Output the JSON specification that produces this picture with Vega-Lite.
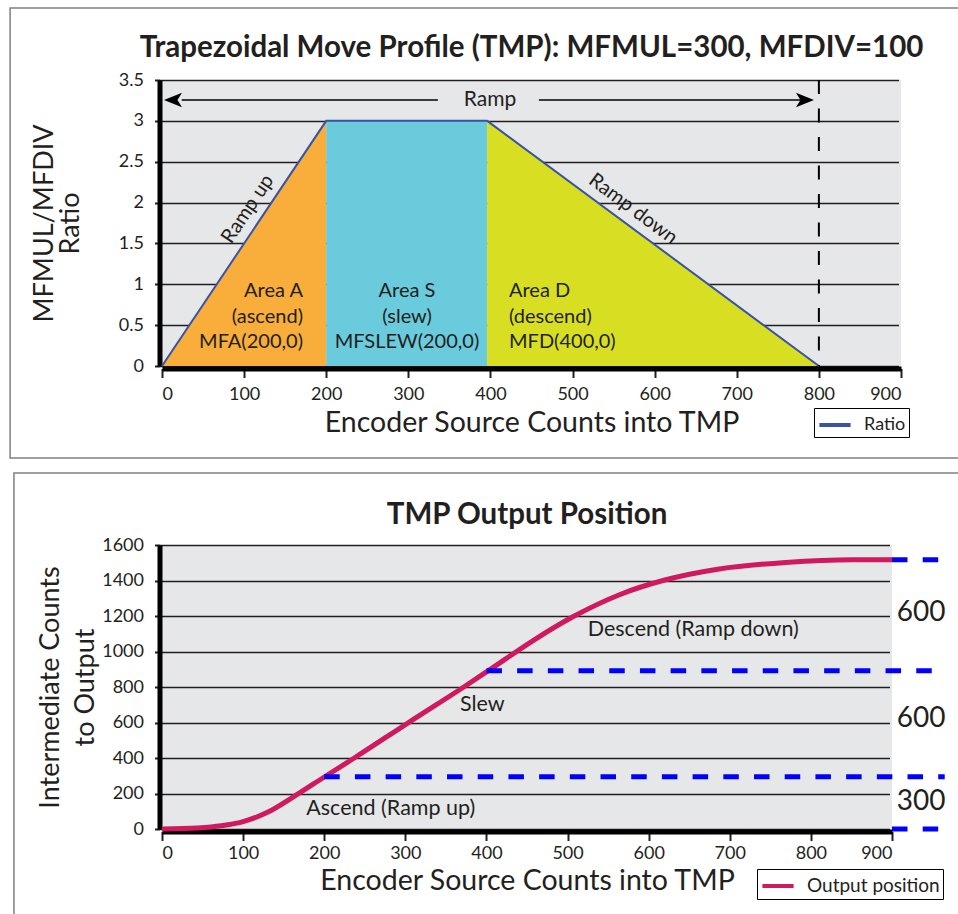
{
  "$schema": "https://vega.github.io/schema/vega-lite/v6.json",
  "padding": {"left": 9, "top": 7, "right": 0, "bottom": 0},
  "autosize": {"type": "pad"},
  "background": "white",
  "spacing": 13,
  "resolve": {
    "scale": {"x": "independent", "y": "independent", "stroke": "independent", "fill": "independent"},
    "legend": {"stroke": "independent"}
  },
  "config": {
    "font": "Lato",
    "view": {"fill": "#E6E7E8", "stroke": null},
    "axis": {
      "domainColor": "#000000", "domainWidth": 5, "domainCap": "butt",
      "tickColor": "#231F20", "tickWidth": 2, "tickSize": 9,
      "gridColor": "#231F20", "gridWidth": 1.3, "gridOpacity": 1,
      "labelColor": "#231F20", "labelFont": "Lato", "labelFontSize": 18,
      "titleColor": "#231F20", "titleFont": "Lato", "titleFontSize": 27, "titleFontWeight": "normal",
      "offset": 2.5
    },
    "axisX": {"grid": false, "titleFontSize": 28.5},
    "axisY": {"grid": true},
    "legend": {
      "orient": "none", "title": null, "symbolType": "M-1.3,0H1.3", "symbolStrokeWidth": 4, "symbolSize": 576,
      "labelFontSize": 18, "labelColor": "#231F20", "labelFont": "Lato",
      "strokeColor": "#000000", "fillColor": "#FFFFFF", "padding": 3, "labelOffset": 15, "symbolOffset": 4
    },
    "text": {"font": "Lato", "color": "#231F20"}
  },
  "vconcat": [
    {
      "width": 739,
      "height": 286,
      "layer": [
        {
          "data": {"values": [{}]},
          "mark": {"type": "rect", "filled": false, "stroke": "#808080", "strokeWidth": 1.5},
          "encoding": {
            "x": {"datum": -185, "type": "quantitative",
              "scale": {"domain": [0, 900], "nice": false, "zero": false},
              "axis": {"values": [0, 100, 200, 300, 400, 500, 600, 700, 800, 900], "tickCount": 20, "format": "d", "title": "Encoder Source Counts into TMP", "grid": false, "labelPadding": 8, "titlePadding": 5}},
            "x2": {"datum": 974},
            "y": {"datum": 4.381, "type": "quantitative",
              "scale": {"domain": [0, 3.5], "nice": false, "zero": false},
              "axis": {"values": [0, 0.5, 1, 1.5, 2, 2.5, 3, 3.5], "tickCount": 20, "format": "~g", "title": ["MFMUL/MFDIV", "Ratio"], "grid": true, "titleLineHeight": 26, "tickSize": 5, "labelPadding": 11, "titlePadding": 34}},
            "y2": {"datum": -1.126}
          }
        },
        {
          "data": {"values": [
            {"seg": "A", "x": 0, "y": 0}, {"seg": "A", "x": 200, "y": 3},
            {"seg": "S", "x": 200, "y": 3}, {"seg": "S", "x": 396, "y": 3},
            {"seg": "D", "x": 396, "y": 3}, {"seg": "D", "x": 800, "y": 0}
          ]},
          "mark": {"type": "area", "opacity": 1},
          "encoding": {
            "x": {"field": "x", "type": "quantitative",
              "scale": {"domain": [0, 900], "nice": false, "zero": false},
              "axis": {"values": [0, 100, 200, 300, 400, 500, 600, 700, 800, 900], "tickCount": 20, "format": "d", "title": "Encoder Source Counts into TMP", "grid": false, "labelPadding": 8, "titlePadding": 5}},
            "y": {"field": "y", "type": "quantitative", "stack": null,
              "scale": {"domain": [0, 3.5], "nice": false, "zero": false},
              "axis": {"values": [0, 0.5, 1, 1.5, 2, 2.5, 3, 3.5], "tickCount": 20, "format": "~g", "title": ["MFMUL/MFDIV", "Ratio"], "grid": true, "titleLineHeight": 26, "tickSize": 5, "labelPadding": 11, "titlePadding": 34}},
            "fill": {
              "field": "seg", "type": "nominal",
              "scale": {"domain": ["A", "S", "D"], "range": ["#F9AD3B", "#69CBDC", "#D8DF22"]},
              "legend": null
            }
          }
        },
        {
          "data": {"values": [
            {"x": 0, "y": 0}, {"x": 200, "y": 3}, {"x": 396, "y": 3}, {"x": 800, "y": 0}
          ]},
          "mark": {"type": "line", "strokeWidth": 2},
          "encoding": {
            "x": {"field": "x", "type": "quantitative"},
            "y": {"field": "y", "type": "quantitative"},
            "stroke": {
              "datum": "Ratio", "type": "nominal",
              "scale": {"range": ["#3953A4"]},
              "legend": {"legendX": 652, "legendY": 328}
            }
          }
        },
        {
          "data": {"values": [
            {"x": 24, "x2": 336, "y": 3.255}, {"x": 459, "x2": 786, "y": 3.255}
          ]},
          "mark": {"type": "rule", "color": "#000000", "strokeWidth": 1.5},
          "encoding": {
            "x": {"field": "x", "type": "quantitative"},
            "x2": {"field": "x2"},
            "y": {"field": "y", "type": "quantitative"}
          }
        },
        {
          "data": {"values": [{"x": 2.4, "y": 3.255}]},
          "mark": {"type": "point", "shape": "M0,0L2,-0.8L1.5,0L2,0.8Z", "filled": true, "color": "#000000", "opacity": 1, "size": 324},
          "encoding": {
            "x": {"field": "x", "type": "quantitative"},
            "y": {"field": "y", "type": "quantitative"}
          }
        },
        {
          "data": {"values": [{"x": 794, "y": 3.255}]},
          "mark": {"type": "point", "shape": "M0,0L-2,-0.8L-1.5,0L-2,0.8Z", "filled": true, "color": "#000000", "opacity": 1, "size": 324},
          "encoding": {
            "x": {"field": "x", "type": "quantitative"},
            "y": {"field": "y", "type": "quantitative"}
          }
        },
        {
          "data": {"values": [{"t": "Ramp", "x": 399.5, "y": 3.255}]},
          "mark": {"type": "text", "fontSize": 21, "align": "center", "baseline": "middle"},
          "encoding": {
            "x": {"field": "x", "type": "quantitative"},
            "y": {"field": "y", "type": "quantitative"},
            "text": {"field": "t"}
          }
        },
        {
          "data": {"values": [{"x": 800, "y": 3.5, "y2": 0}]},
          "mark": {"type": "rule", "color": "#000000", "strokeWidth": 2, "strokeDash": [14, 14.5]},
          "encoding": {
            "x": {"field": "x", "type": "quantitative"},
            "y": {"field": "y", "type": "quantitative"},
            "y2": {"field": "y2"}
          }
        },
        {
          "data": {"values": [{"t": "Ramp up", "x": 104.5, "y": 1.92}]},
          "mark": {"type": "text", "fontSize": 20, "align": "center", "baseline": "middle", "angle": -56.2},
          "encoding": {
            "x": {"field": "x", "type": "quantitative"},
            "y": {"field": "y", "type": "quantitative"},
            "text": {"field": "t"}
          }
        },
        {
          "data": {"values": [{"t": "Ramp down", "x": 573.6, "y": 1.921}]},
          "mark": {"type": "text", "fontSize": 20, "align": "center", "baseline": "middle", "angle": 36.5},
          "encoding": {
            "x": {"field": "x", "type": "quantitative"},
            "y": {"field": "y", "type": "quantitative"},
            "text": {"field": "t"}
          }
        },
        {
          "data": {"values": [{"t": "Area A\n(ascend)\nMFA(200,0)", "x": 171.7, "y": 0.918}]},
          "mark": {"type": "text", "fontSize": 20, "align": "right", "baseline": "middle", "lineBreak": "\n", "lineHeight": 25.7},
          "encoding": {
            "x": {"field": "x", "type": "quantitative"},
            "y": {"field": "y", "type": "quantitative"},
            "text": {"field": "t"}
          }
        },
        {
          "data": {"values": [{"t": "Area S\n(slew)\nMFSLEW(200,0)", "x": 298.4, "y": 0.918}]},
          "mark": {"type": "text", "fontSize": 20, "align": "center", "baseline": "middle", "lineBreak": "\n", "lineHeight": 25.7},
          "encoding": {
            "x": {"field": "x", "type": "quantitative"},
            "y": {"field": "y", "type": "quantitative"},
            "text": {"field": "t"}
          }
        },
        {
          "data": {"values": [{"t": "Area D\n(descend)\nMFD(400,0)", "x": 422.6, "y": 0.918}]},
          "mark": {"type": "text", "fontSize": 20, "align": "left", "baseline": "middle", "lineBreak": "\n", "lineHeight": 25.7},
          "encoding": {
            "x": {"field": "x", "type": "quantitative"},
            "y": {"field": "y", "type": "quantitative"},
            "text": {"field": "t"}
          }
        },
        {
          "data": {"values": [{"t": "Trapezoidal Move Profile (TMP): MFMUL=300, MFDIV=100"}]},
          "mark": {"type": "text", "fontSize": 29.5, "fontWeight": "bold", "align": "center", "baseline": "alphabetic"},
          "encoding": {
            "x": {"datum": 450, "type": "quantitative",
              "axis": {"values": [0, 100, 200, 300, 400, 500, 600, 700, 800, 900], "tickCount": 20, "format": "d", "title": "Encoder Source Counts into TMP", "grid": false, "labelPadding": 8, "titlePadding": 5}},
            "y": {"datum": 3.7815, "type": "quantitative",
              "axis": {"values": [0, 0.5, 1, 1.5, 2, 2.5, 3, 3.5], "tickCount": 20, "format": "~g", "title": ["MFMUL/MFDIV", "Ratio"], "grid": true, "titleLineHeight": 26, "tickSize": 5, "labelPadding": 11, "titlePadding": 34}},
            "text": {"field": "t"}
          }
        }
      ]
    },
    {
      "width": 730,
      "height": 284,
      "layer": [
        {
          "data": {"values": [{}]},
          "mark": {"type": "rect", "filled": false, "stroke": "#808080", "strokeWidth": 1.5},
          "encoding": {
            "x": {"datum": -182.5, "type": "quantitative",
              "scale": {"domain": [0, 900], "nice": false, "zero": false},
              "axis": {"values": [0, 100, 200, 300, 400, 500, 600, 700, 800, 900], "tickCount": 20, "format": "d", "title": "Encoder Source Counts into TMP", "grid": false, "labelPadding": 4, "titlePadding": 3.5}},
            "x2": {"datum": 986},
            "y": {"datum": 2005.6, "type": "quantitative",
              "scale": {"domain": [0, 1600], "nice": false, "zero": false},
              "axis": {"values": [0, 200, 400, 600, 800, 1000, 1200, 1400, 1600], "tickCount": 20, "format": "d", "title": ["Intermediate Counts", "to Output"], "grid": true, "titleLineHeight": 35, "tickSize": 5, "labelPadding": 11, "titlePadding": 2}},
            "y2": {"datum": -512.7}
          }
        },
        {
          "data": {"values": [
            {"x": 0, "y": 0}, {"x": 44, "y": 6}, {"x": 73, "y": 18}, {"x": 101, "y": 43},
            {"x": 130, "y": 94}, {"x": 163, "y": 184}, {"x": 200, "y": 293}, {"x": 237, "y": 400},
            {"x": 303, "y": 597}, {"x": 373, "y": 803}, {"x": 401, "y": 888}, {"x": 459, "y": 1066},
            {"x": 506, "y": 1194}, {"x": 564, "y": 1320}, {"x": 621, "y": 1404}, {"x": 687, "y": 1465},
            {"x": 769, "y": 1502}, {"x": 851, "y": 1517}, {"x": 900, "y": 1517}
          ]},
          "mark": {"type": "line", "strokeWidth": 5, "interpolate": "monotone"},
          "encoding": {
            "x": {"field": "x", "type": "quantitative",
              "scale": {"domain": [0, 900], "nice": false, "zero": false},
              "axis": {"values": [0, 100, 200, 300, 400, 500, 600, 700, 800, 900], "tickCount": 20, "format": "d", "title": "Encoder Source Counts into TMP", "grid": false, "labelPadding": 4, "titlePadding": 3.5}},
            "y": {"field": "y", "type": "quantitative",
              "scale": {"domain": [0, 1600], "nice": false, "zero": false},
              "axis": {"values": [0, 200, 400, 600, 800, 1000, 1200, 1400, 1600], "tickCount": 20, "format": "d", "title": ["Intermediate Counts", "to Output"], "grid": true, "titleLineHeight": 35, "tickSize": 5, "labelPadding": 11, "titlePadding": 2}},
            "stroke": {
              "datum": "Output position", "type": "nominal",
              "scale": {"range": ["#D0195E"]},
              "legend": {"legendX": 595, "legendY": 324, "labelFontSize": 19}
            }
          }
        },
        {
          "data": {"values": [
            {"x": 200, "x2": 965, "y": 295}, {"x": 400, "x2": 965, "y": 892},
            {"x": 900, "x2": 965, "y": 1517}, {"x": 900, "x2": 965, "y": 0}
          ]},
          "mark": {"type": "rule", "color": "#0000FF", "strokeWidth": 5, "strokeDash": [15.5, 15.2]},
          "encoding": {
            "x": {"field": "x", "type": "quantitative"},
            "x2": {"field": "x2"},
            "y": {"field": "y", "type": "quantitative"}
          }
        },
        {
          "data": {"values": [
            {"t": "Descend (Ramp down)", "x": 655, "y": 1123},
            {"t": "Slew", "x": 395, "y": 700},
            {"t": "Ascend (Ramp up)", "x": 282, "y": 113}
          ]},
          "mark": {"type": "text", "fontSize": 21.5, "align": "center", "baseline": "middle"},
          "encoding": {
            "x": {"field": "x", "type": "quantitative"},
            "y": {"field": "y", "type": "quantitative"},
            "text": {"field": "t"}
          }
        },
        {
          "data": {"values": [
            {"t": "600", "x": 936, "y": 1219},
            {"t": "600", "x": 936, "y": 621},
            {"t": "300", "x": 936, "y": 154}
          ]},
          "mark": {"type": "text", "fontSize": 28, "align": "center", "baseline": "middle"},
          "encoding": {
            "x": {"field": "x", "type": "quantitative"},
            "y": {"field": "y", "type": "quantitative"},
            "text": {"field": "t"}
          }
        },
        {
          "data": {"values": [{"t": "TMP Output Position"}]},
          "mark": {"type": "text", "fontSize": 29.5, "fontWeight": "bold", "align": "center", "baseline": "alphabetic"},
          "encoding": {
            "x": {"datum": 450, "type": "quantitative",
              "axis": {"values": [0, 100, 200, 300, 400, 500, 600, 700, 800, 900], "tickCount": 20, "format": "d", "title": "Encoder Source Counts into TMP", "grid": false, "labelPadding": 4, "titlePadding": 3.5}},
            "y": {"datum": 1718.3, "type": "quantitative",
              "axis": {"values": [0, 200, 400, 600, 800, 1000, 1200, 1400, 1600], "tickCount": 20, "format": "d", "title": ["Intermediate Counts", "to Output"], "grid": true, "titleLineHeight": 35, "tickSize": 5, "labelPadding": 11, "titlePadding": 2}},
            "text": {"field": "t"}
          }
        }
      ]
    }
  ]
}
